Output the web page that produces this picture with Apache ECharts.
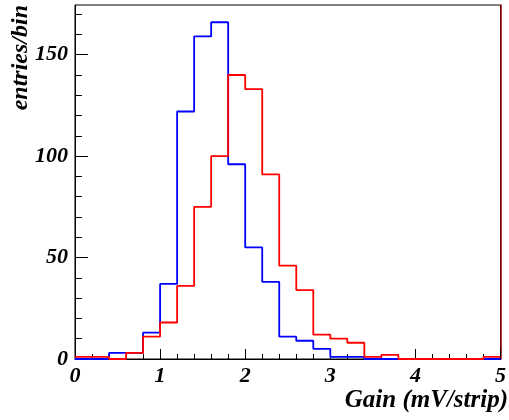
<!DOCTYPE html>
<html>
<head>
<meta charset="utf-8">
<script src="https://cdn.jsdelivr.net/npm/echarts@6/dist/echarts.min.js"></script>
<style>html,body{margin:0;padding:0;background:#fff}#c{width:509px;height:420px}</style>
</head>
<body>
<div id="c"></div>
<script>
// Bin left edges (bin width 0.2 mV/strip), last entry is the upper edge
var binEdges = [0, 0.2, 0.4, 0.6, 0.8, 1.0, 1.2, 1.4, 1.6, 1.8, 2.0, 2.2, 2.4, 2.6, 2.8, 3.0, 3.2, 3.4, 3.6, 3.8, 4.0, 4.2, 4.4, 4.6, 4.8, 5.0];
var blueCounts = [0, 0, 3, 3, 13, 37, 122, 159, 166, 96, 55, 38, 11, 9, 5, 1, 1, 0, 0, 0, 0, 0, 0, 0, 0];
var redCounts  = [1, 1, 0, 3, 11, 18, 36, 75, 100, 140, 133, 91, 46, 34, 12, 10, 8, 1, 2, 0, 0, 0, 0, 0, 1];
var xTickLabels = [0, 1, 2, 3, 4, 5];
var yMajorTicks = [0, 50, 100, 150];
var yMinorTicks = [10, 20, 30, 40, 60, 70, 80, 90, 110, 120, 130, 140, 160, 170];
var yMax = 174.5;

function histPoints(counts) {
  var pts = [];
  for (var i = 0; i < counts.length; i++) pts.push([binEdges[i], counts[i]]);
  pts.push([binEdges[counts.length], counts[counts.length - 1]]);
  return pts;
}

var font = {fontFamily: 'Liberation Serif', fontWeight: 'bold', fontStyle: 'italic', color: '#000'};
var chart = echarts.init(document.getElementById('c'));
chart.setOption({
  animation: false,
  grid: {left: 75, right: 4, top: 5, bottom: 61, show: true, borderColor: '#000', borderWidth: 1, backgroundColor: 'transparent'},
  xAxis: {
    type: 'value', min: xTickLabels[0], max: xTickLabels[xTickLabels.length - 1], interval: 1,
    axisLine: {onZero: false, lineStyle: {color: '#000', width: 1}},
    axisTick: {inside: true, length: 10, lineStyle: {color: '#000'}},
    minorTick: {show: true, splitNumber: 5, length: 5, lineStyle: {color: '#000'}},
    splitLine: {show: false},
    axisLabel: Object.assign({fontSize: 22, margin: 6, showMinLabel: true, showMaxLabel: true}, font)
  },
  yAxis: [{
    type: 'value', min: 0, max: yMax, position: 'left',
    axisLine: {show: true, lineStyle: {color: '#000', width: 1}},
    axisTick: {inside: true, length: 13, customValues: yMajorTicks, lineStyle: {color: '#000'}},
    splitLine: {show: false},
    axisLabel: Object.assign({fontSize: 22, margin: 7, customValues: yMajorTicks}, font)
  }, {
    type: 'value', min: 0, max: yMax, position: 'left',
    axisLine: {show: false},
    axisTick: {show: true, inside: true, length: 7, customValues: yMinorTicks, lineStyle: {color: '#000'}},
    splitLine: {show: false},
    axisLabel: {show: false}
  }, {
    type: 'value', min: 0, max: yMax, position: 'right',
    axisLine: {show: true, lineStyle: {color: '#9a0000', width: 1.5}},
    axisTick: {show: false}, splitLine: {show: false}, axisLabel: {show: false}
  }],
  graphic: [{
    type: 'text', right: 1, top: 388,
    style: {text: 'Gain (mV/strip)', fontSize: 25, fill: '#000', fontFamily: 'Liberation Serif', fontWeight: 'bold', fontStyle: 'italic'}
  }, {
    type: 'text', x: 21, y: 5, rotation: Math.PI / 2,
    style: {text: 'entries/bin', fontSize: 24, fill: '#000', align: 'right', verticalAlign: 'middle', fontFamily: 'Liberation Serif', fontWeight: 'bold', fontStyle: 'italic'}
  }],
  series: [{
    type: 'line', step: 'end', data: histPoints(blueCounts), yAxisIndex: 0,
    showSymbol: false, lineStyle: {color: '#0000ff', width: 1.8}, z: 3
  }, {
    type: 'line', step: 'end', data: histPoints(redCounts), yAxisIndex: 0,
    showSymbol: false, lineStyle: {color: '#ff0000', width: 1.8}, z: 4
  }]
});
</script>
</body>
</html>
